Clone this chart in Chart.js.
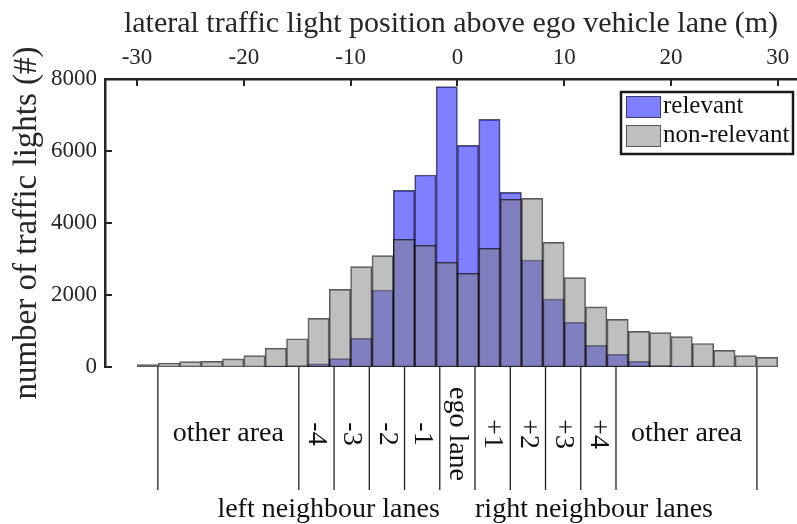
<!DOCTYPE html>
<html><head><meta charset="utf-8">
<script src="https://cdn.jsdelivr.net/npm/chart.js@4"></script>
<style>html,body{margin:0;padding:0;background:#fff;overflow:hidden}canvas{display:block}</style>
</head><body>
<canvas id="c" width="797" height="524"></canvas>
<script>
// ---- data ----
const binCenters = [-29,-27,-25,-23,-21,-19,-17,-15,-13,-11,-9,-7,-5,-3,-1,1,3,5,7,9,11,13,15,17,19,21,23,25,27,29];
const relevantCounts = [0,0,0,0,0,0,20,40,90,231,796,2139,4907,5333,7787,6157,6880,4852,2972,1889,1241,602,352,157,46,20,5,0,0,0];
const nonRelevantCounts = [70,110,150,155,225,315,520,785,1352,2157,2787,3093,3546,3380,2907,2602,3296,4657,4685,3463,2481,1670,1324,991,954,843,652,463,318,268];
const xTickValues = [-30,-20,-10,0,10,20,30];
const yTickValues = [0,2000,4000,6000,8000];
const laneBounds = [-28.05,-14.85,-11.55,-8.25,-4.95,-1.65,1.65,4.95,8.25,11.55,14.85,28.05];
const laneLabels = ['other area','-4','-3','-2','-1','ego lane','+1','+2','+3','+4','other area'];
const groupLabels = ['left neighbour lanes','right neighbour lanes'];
const seriesNames = ['relevant','non-relevant'];
const xTitle = 'lateral traffic light position above ego vehicle lane (m)';
const yTitle = 'number of traffic lights (#)';

const FONT = '"Liberation Serif", "Times New Roman", serif';
Chart.defaults.font.family = FONT;
Chart.defaults.color = '#262626';

const overlay = {
  id: 'overlay',
  afterDraw(chart) {
    const {ctx, chartArea: ca, scales: {x, y}} = chart;
    ctx.save();
    // inward tick marks
    ctx.strokeStyle = '#262626'; ctx.lineWidth = 2;
    ctx.beginPath();
    xTickValues.forEach(v => { const p = Math.round(x.getPixelForValue(v)); ctx.moveTo(p, ca.top); ctx.lineTo(p, ca.top + 7); });
    yTickValues.forEach(v => { const p = Math.round(y.getPixelForValue(v)); ctx.moveTo(ca.left, p); ctx.lineTo(ca.left + 7, p); });
    ctx.stroke();
    // lane separators
    ctx.strokeStyle = '#222'; ctx.lineWidth = 1.3;
    ctx.beginPath();
    laneBounds.forEach(b => { const p = x.getPixelForValue(b); ctx.moveTo(p, ca.bottom); ctx.lineTo(p, ca.bottom + 123); });
    ctx.stroke();
    // lane labels
    ctx.fillStyle = '#111';
    ctx.font = '28px ' + FONT;
    ctx.textBaseline = 'middle'; ctx.textAlign = 'center';
    const midY = ca.bottom + 67;
    laneLabels.forEach((t, i) => {
      const cx = (x.getPixelForValue(laneBounds[i]) + x.getPixelForValue(laneBounds[i + 1])) / 2;
      if (i === 0 || i === laneLabels.length - 1) {
        ctx.fillText(t, cx, midY);
      } else {
        ctx.save(); ctx.translate(cx, midY); ctx.rotate(Math.PI / 2); ctx.fillText(t, 0, 0); ctx.restore();
      }
    });
    // group labels
    ctx.textBaseline = 'alphabetic';
    ctx.textAlign = 'right';
    ctx.fillText(groupLabels[0], x.getPixelForValue(laneBounds[5]), ca.bottom + 150);
    ctx.textAlign = 'left';
    ctx.fillText(groupLabels[1], x.getPixelForValue(laneBounds[6]), ca.bottom + 150);
    // legend box
    const lx = 621, ly = 92, lw = 172, lh = 62;
    ctx.fillStyle = '#fff';
    ctx.fillRect(lx, ly, lw, lh);
    ctx.strokeStyle = '#1a1a1a'; ctx.lineWidth = 2.5;
    ctx.strokeRect(lx, ly, lw, lh);
    ctx.font = '25px ' + FONT;
    chart.data.datasets.forEach((ds, i) => {
      const sy = ly + 4 + i * 29;
      ctx.fillStyle = ds.backgroundColor;
      ctx.fillRect(lx + 5, sy, 35, 22);
      ctx.strokeStyle = 'rgba(0,0,0,0.55)'; ctx.lineWidth = 1;
      ctx.strokeRect(lx + 5.5, sy + 0.5, 34, 21);
      ctx.fillStyle = '#111';
      ctx.textAlign = 'left'; ctx.textBaseline = 'alphabetic';
      ctx.fillText(ds.label, lx + 42, sy + 17);
    });
    ctx.restore();
  }
};

new Chart(document.getElementById('c'), {
  type: 'bar',
  data: {
    datasets: [
      {
        label: seriesNames[0],
        data: binCenters.map((c, i) => ({x: c, y: relevantCounts[i]})),
        backgroundColor: 'rgba(0,0,255,0.5)',
        borderColor: 'rgba(0,0,0,0.65)',
        borderWidth: 1,
        borderSkipped: false,
        order: 1
      },
      {
        label: seriesNames[1],
        data: binCenters.map((c, i) => ({x: c, y: nonRelevantCounts[i]})),
        backgroundColor: 'rgba(128,128,128,0.5)',
        borderColor: 'rgba(0,0,0,0.65)',
        borderWidth: 1,
        borderSkipped: false,
        order: 0
      }
    ]
  },
  options: {
    responsive: false,
    animation: false,
    devicePixelRatio: 1,
    layout: {padding: {top: 0, left: 0, right: 0, bottom: 157}},
    datasets: {bar: {grouped: false, barPercentage: 1, categoryPercentage: 1}},
    plugins: {legend: {display: false}, tooltip: {enabled: false}},
    scales: {
      x: {
        type: 'linear', position: 'top', min: -33, max: 31.8, offset: false,
        grid: {display: false, drawTicks: false},
        border: {display: true, width: 2.5, color: '#262626'},
        ticks: {font: {size: 23, family: FONT}, color: '#262626', padding: 7, maxRotation: 0, autoSkip: false, callback: v => String(v)},
        title: {display: true, text: xTitle, font: {size: 30, family: FONT}, color: '#262626', padding: {top: 6, bottom: 0}},
        afterBuildTicks: s => { s.ticks = xTickValues.map(v => ({value: v})); },
        afterFit: s => { s.height = 79; }
      },
      y: {
        type: 'linear', position: 'left', min: 0, max: 8000,
        grid: {display: false, drawTicks: false},
        border: {display: true, width: 2.5, color: '#262626'},
        ticks: {font: {size: 23, family: FONT}, color: '#262626', padding: 8, callback: v => String(v)},
        title: {display: true, text: yTitle, font: {size: 33, family: FONT}, color: '#262626', padding: {top: 8, bottom: 0}},
        afterBuildTicks: s => { s.ticks = yTickValues.map(v => ({value: v})); },
        afterFit: s => { s.width = 105; }
      }
    }
  },
  plugins: [overlay]
});
</script>
</body></html>
